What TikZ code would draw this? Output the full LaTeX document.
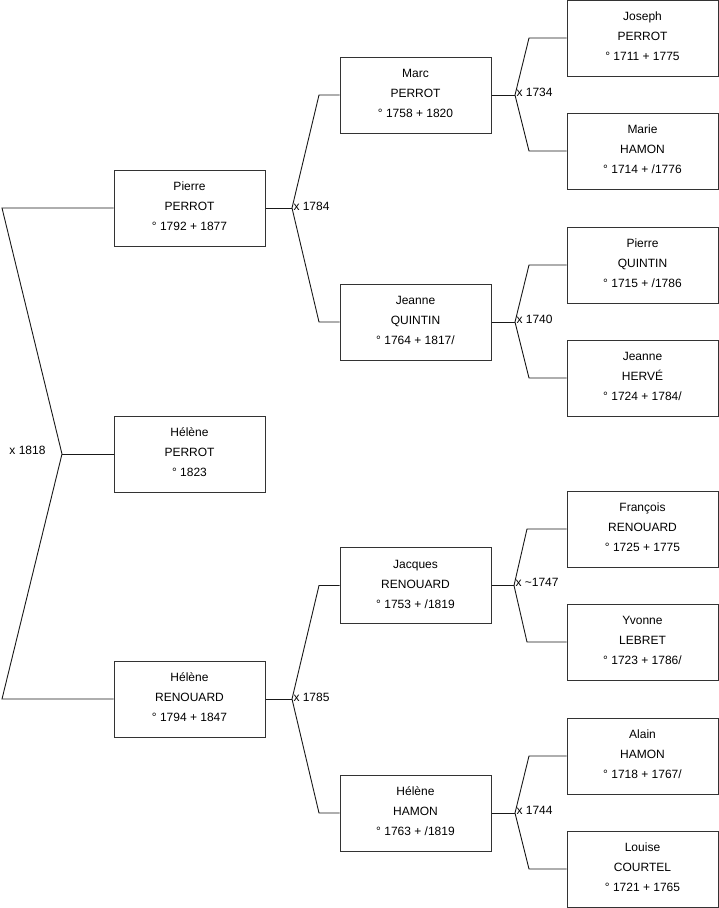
\documentclass[tikz,border=0pt]{standalone}
\usepackage{fontspec}
\setmainfont{Liberation Sans}
\begin{document}
\begin{tikzpicture}[x=1pt,y=-1pt,line width=1pt,
  person/.style={draw=black!80,fill=white,minimum width=151pt,minimum height=76pt,inner sep=0pt,align=center,font=\fontsize{12}{20}\selectfont},
  ptext/.style={align=center,inner sep=0pt,font=\fontsize{12}{20}\selectfont},
  link/.style={draw=black!90,line width=0.9pt},
  marr/.style={font=\fontsize{12}{14}\selectfont,inner sep=1pt,yshift=1.5pt}]
\useasboundingbox (0,0) rectangle (719,908);
% column 1
\node[person] (p1) at (189.5,208) {};
\node[person] (h0) at (189.5,454) {};
\node[person] (r1) at (189.5,699) {};
% column 2
\node[person] (mp) at (415.5,95) {};
\node[person] (jq) at (415.5,322) {};
\node[person] (jr) at (415.5,585.5) {};
\node[person] (hh) at (415.5,813) {};
% column 3
\node[person] (a1) at (642.5,38) {};
\node[person] (a2) at (642.5,151) {};
\node[person] (a3) at (642.5,265) {};
\node[person] (a4) at (642.5,378) {};
\node[person] (a5) at (642.5,529) {};
\node[person] (a6) at (642.5,642) {};
\node[person] (a7) at (642.5,756) {};
\node[person] (a8) at (642.5,869) {};
% texts (slightly raised as in the reference)
\node[ptext] (tp1) at ([yshift=1.5pt]p1.center) {Pierre\\PERROT\\° 1792 + 1877};
\node[ptext] (th0) at ([yshift=1.5pt]h0.center) {Hélène\\PERROT\\° 1823};
\node[ptext] (tr1) at ([yshift=1.5pt]r1.center) {Hélène\\RENOUARD\\° 1794 + 1847};
\node[ptext] (tmp) at ([yshift=1.5pt]mp.center) {Marc\\PERROT\\° 1758 + 1820};
\node[ptext] (tjq) at ([yshift=1.5pt]jq.center) {Jeanne\\QUINTIN\\° 1764 + 1817/};
\node[ptext] (tjr) at ([yshift=1.5pt]jr.center) {Jacques\\RENOUARD\\° 1753 + /1819};
\node[ptext] (thh) at ([yshift=1.5pt]hh.center) {Hélène\\HAMON\\° 1763 + /1819};
\node[ptext] (ta1) at ([yshift=1.5pt]a1.center) {Joseph\\PERROT\\° 1711 + 1775};
\node[ptext] (ta2) at ([yshift=1.5pt]a2.center) {Marie\\HAMON\\° 1714 + /1776};
\node[ptext] (ta3) at ([yshift=1.5pt]a3.center) {Pierre\\QUINTIN\\° 1715 + /1786};
\node[ptext] (ta4) at ([yshift=1.5pt]a4.center) {Jeanne\\HERVÉ\\° 1724 + 1784/};
\node[ptext] (ta5) at ([yshift=1.5pt]a5.center) {François\\RENOUARD\\° 1725 + 1775};
\node[ptext] (ta6) at ([yshift=1.5pt]a6.center) {Yvonne\\LEBRET\\° 1723 + 1786/};
\node[ptext] (ta7) at ([yshift=1.5pt]a7.center) {Alain\\HAMON\\° 1718 + 1767/};
\node[ptext] (ta8) at ([yshift=1.5pt]a8.center) {Louise\\COURTEL\\° 1721 + 1765};
% level 0
\coordinate (v0) at (62,454);
\coordinate (t0) at (2,208);
\coordinate (b0) at (2,699);
\draw[link] (p1.west) -- (t0) -- (v0) -- (b0) -- (r1.west);
\draw[link] (v0) -- (h0.west);
\node[marr,anchor=east] (m0) at (47,452) {x 1818};
% level 1
\coordinate (v1) at (292,208);
\coordinate (v2) at (292,699);
\draw[link] (p1.east) -- (v1);
\draw[link] (mp.west) -- (319,95) -- (v1) -- (319,322) -- (jq.west);
\node[marr,anchor=west] (m1) at (v1) {x 1784};
\draw[link] (r1.east) -- (v2);
\draw[link] (jr.west) -- (319,585.5) -- (v2) -- (319,813) -- (hh.west);
\node[marr,anchor=west] (m2) at (v2) {x 1785};
% level 2
\coordinate (w1) at (515,95);
\coordinate (w2) at (515,322);
\coordinate (w3) at (514,585.5);
\coordinate (w4) at (515,813);
\draw[link] (mp.east) -- (w1);
\draw[link] (a1.west) -- (529,38) -- (w1) -- (529,151) -- (a2.west);
\node[marr,anchor=west,yshift=1.5pt] (m3) at (w1) {x 1734};
\draw[link] (jq.east) -- (w2);
\draw[link] (a3.west) -- (529,265) -- (w2) -- (529,378) -- (a4.west);
\node[marr,anchor=west,yshift=1.5pt] (m4) at (w2) {x 1740};
\draw[link] (jr.east) -- (w3);
\draw[link] (a5.west) -- (527,529) -- (w3) -- (527,642) -- (a6.west);
\node[marr,anchor=west,yshift=1.5pt] (m5) at (w3) {x \char"007E 1747};
\draw[link] (hh.east) -- (w4);
\draw[link] (a7.west) -- (529,756) -- (w4) -- (529,869) -- (a8.west);
\node[marr,anchor=west,yshift=1.5pt] (m6) at (w4) {x 1744};
\end{tikzpicture}
\end{document}
